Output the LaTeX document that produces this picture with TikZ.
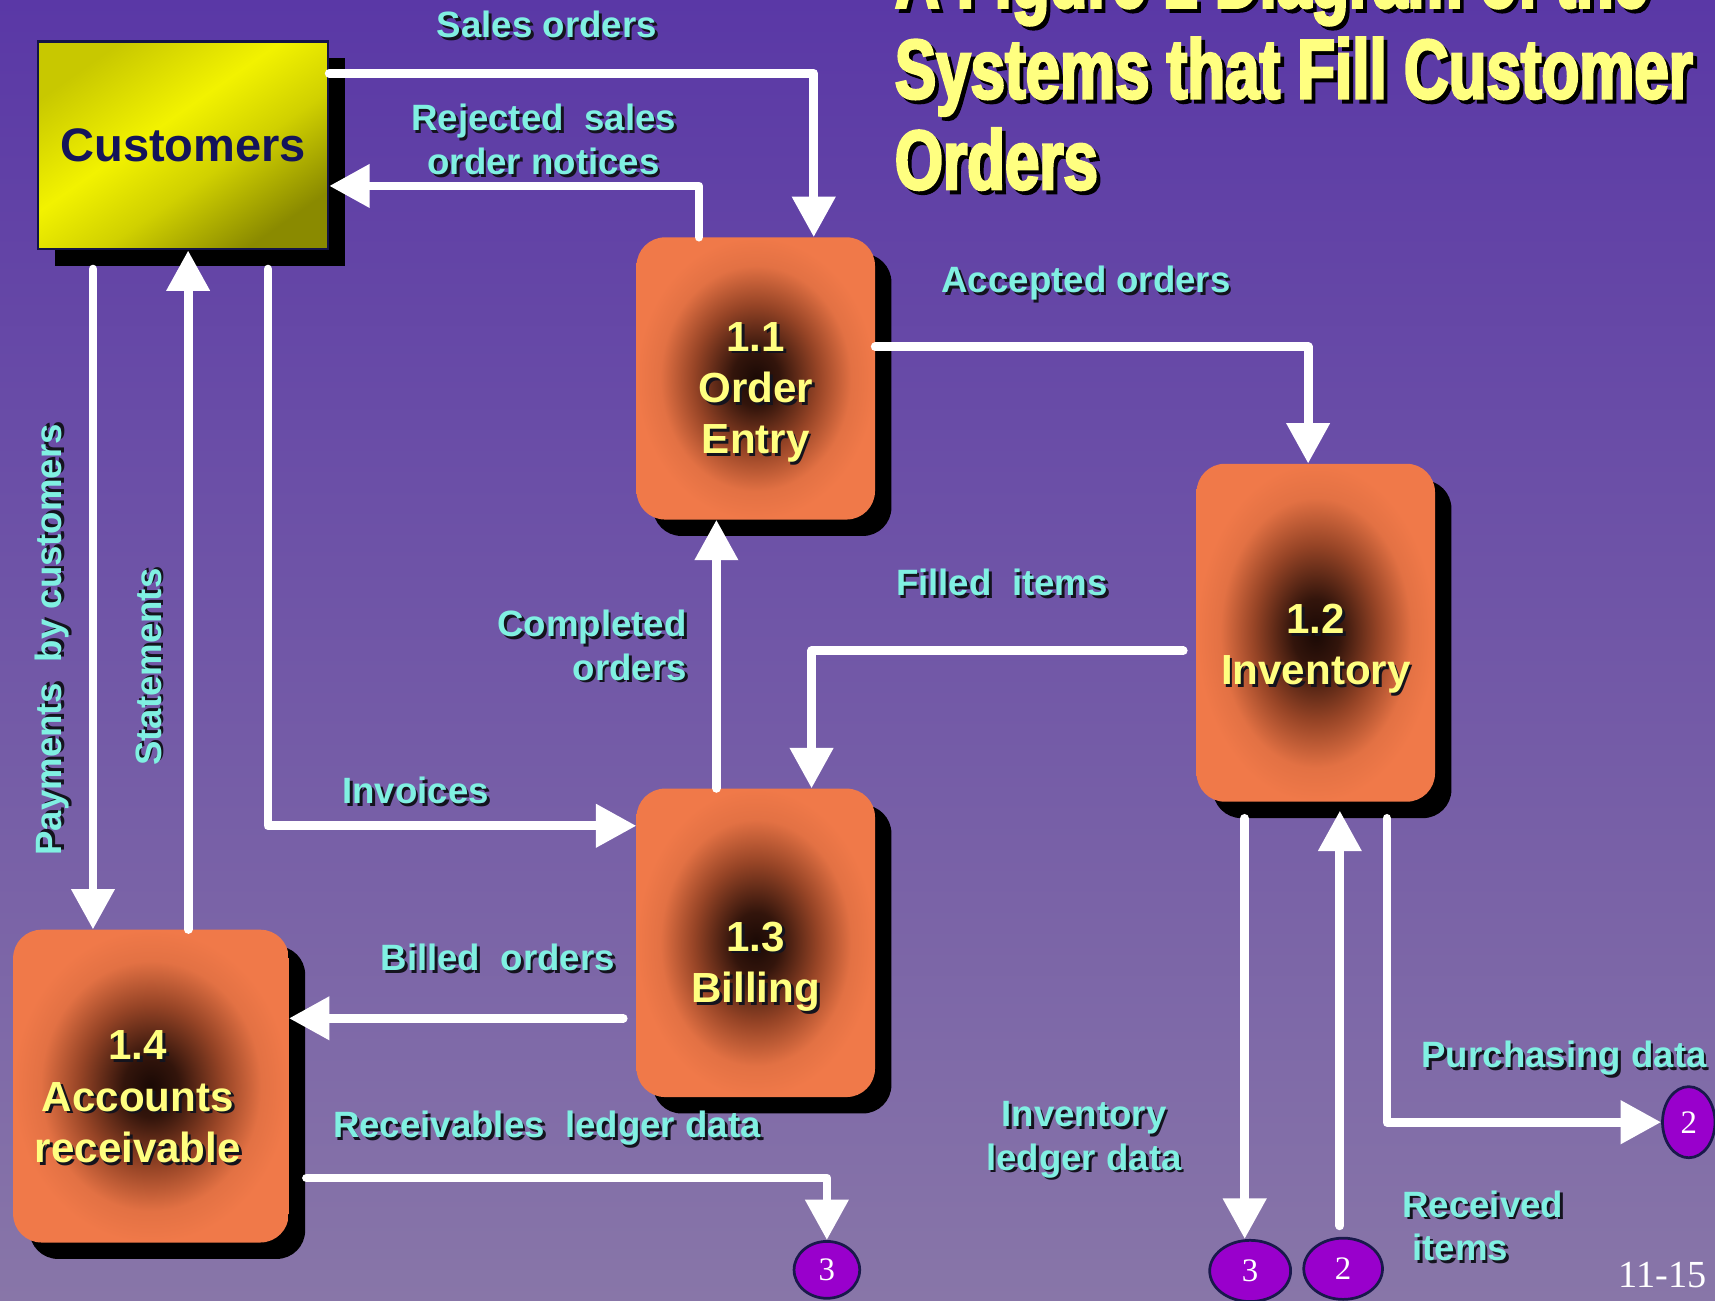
\documentclass[tikz,border=0pt]{standalone}
\usepackage{fontspec}
\setmainfont{Liberation Sans}
\newfontfamily\serifnum{Liberation Serif}
\newfontfamily\titlefont{Liberation Sans}[FakeStretch=0.735,FakeBold=3]
\usetikzlibrary{shapes.geometric,shadows,calc,arrows.meta}

\definecolor{bgtop}{RGB}{90,56,166}
\definecolor{bgbot}{RGB}{136,118,168}
\definecolor{labcyan}{RGB}{128,240,226}
\definecolor{procyel}{RGB}{255,255,128}
\definecolor{procorange}{RGB}{240,121,73}
\definecolor{procmid}{RGB}{150,68,38}
\definecolor{procdark}{RGB}{26,9,5}
\definecolor{custtext}{RGB}{20,20,90}
\definecolor{custedge}{RGB}{20,20,70}
\definecolor{custbright}{RGB}{242,242,0}
\definecolor{custmid}{RGB}{200,200,0}
\definecolor{custdark}{RGB}{138,138,0}
\definecolor{storefill}{RGB}{153,0,204}
\definecolor{storeedge}{RGB}{25,25,75}
\definecolor{txshadow}{RGB}{20,20,30}

% orange process boxes, dark in the middle
\pgfdeclareradialshading{procshade}{\pgfpoint{0bp}{0bp}}{%
  color(0bp)=(procdark); color(5bp)=(procdark!80!procmid);
  color(13bp)=(procmid); color(20bp)=(procorange!85!procmid);
  color(25bp)=(procorange); color(50bp)=(procorange)}
% yellow external entity
\pgfdeclareverticalshading{custshade}{100bp}{%
  color(0bp)=(custdark); color(25bp)=(custdark); color(42bp)=(custmid!80!custbright);
  color(56bp)=(custbright); color(75bp)=(custmid); color(100bp)=(custmid)}

% text with a dark drop shadow
\newcommand\txsh[1]{\leavevmode\rlap{\kern2.5pt\raisebox{-2.5pt}{\color{txshadow}#1}}#1}
\newcommand\ttlsh[1]{\leavevmode\rlap{\kern3.5pt\raisebox{-3.5pt}{\color{black}#1}}#1}

\tikzset{
  boxshadow/.style={drop shadow={shadow xshift=15pt,shadow yshift=-15pt,fill=black,opacity=1}},
  custbox/.style={rectangle, minimum width=265pt, minimum height=190pt, inner sep=0pt,
    draw=custedge, line width=2pt, shading=custshade, shading angle=35,
    text=custtext, font=\fontsize{43}{50}\selectfont\bfseries, boxshadow},
  procbox/.style={rectangle, rounded corners=26pt, inner sep=0pt, shading=procshade, boxshadow},
  proctext/.style={inner sep=0pt, align=center, text=procyel, font=\fontsize{38.5}{47}\selectfont\bfseries},
  store/.style={ellipse, inner sep=0pt, draw=storeedge, line width=2.5pt, fill=storefill,
    text=white, font=\serifnum\fontsize{30}{30}\selectfont},
  lab/.style={inner sep=0pt, align=center, text=labcyan, font=\fontsize{33.5}{40}\selectfont\bfseries},
  ttl/.style={inner sep=0pt, anchor=base west, text=procyel, font=\titlefont\fontsize{77}{83}\selectfont\bfseries},
  flow/.style={draw=white, line width=8pt, line cap=round, line join=round,
    -{Triangle[length=37pt,width=38pt]}},
}

\begin{document}
\begin{tikzpicture}[x=1pt,y=-1pt]
\useasboundingbox (0,0) rectangle (1568,1189);
\shade[top color=bgtop, bottom color=bgbot] (0,0) rectangle (1568,1189);

% title
\node[ttl] (title1) at (818,7) {\ttlsh{A Figure 1 Diagram of the}};
\node[ttl] (title2) at (818,90) {\ttlsh{Systems that Fill Customer}};
\node[ttl] (title3) at (818,173) {\ttlsh{Orders}};

% entity, processes and data stores
\node[custbox] (cust) at (167.5,133) {Customers};
\node[procbox, minimum width=218pt, minimum height=258pt] (oe) at (691,346) {};
\node[procbox, minimum width=218pt, minimum height=309pt] (inv) at (1203,578.5) {};
\node[procbox, minimum width=218pt, minimum height=282pt] (bil) at (691,862) {};
\node[procbox, minimum width=252pt, minimum height=286pt] (ar) at (138,993) {};

\node[proctext] (oetext) at ($(oe.center)+(0,14)$) {\txsh{1.1}\\\txsh{Order}\\\txsh{Entry}};
\node[proctext] (invtext) at ($(inv.center)+(0,16)$) {\txsh{1.2}\\\txsh{Inventory}};
\node[proctext] (biltext) at ($(bil.center)+(0,23)$) {\txsh{1.3}\\\txsh{Billing}};
\node[proctext] (artext) at ($(ar.center)+(-12,11)$) {\txsh{1.4}\\\txsh{Accounts}\\\txsh{receivable}};

\node[store, minimum width=60pt, minimum height=52pt] (s3a) at (756,1161) {3};
\node[store, minimum width=74pt, minimum height=56pt] (s3b) at (1143,1162) {3};
\node[store, minimum width=72pt, minimum height=56pt] (s2a) at (1228,1160) {2};
\node[store, minimum width=48pt, minimum height=65pt] (s2b) at (1544,1026) {2};

% data flows
\draw[flow] (cust.east |- 0,67) -| (744,0 |- oe.north);
\draw[flow] (639,0 |- oe.north) |- (cust.east |- 0,170);
\draw[flow] (oe.east |- 0,317) -| (1196,0 |- inv.north);
\draw[flow] ($(inv.west |- 0,595)+(-12,0)$) -| (742,0 |- bil.north);
\draw[flow] (655,0 |- bil.north) -- (655,0 |- oe.south);
\draw[flow] ($(cust.south -| 245,0)+(0,17)$) |- (bil.west |- 0,755);
\draw[flow] ($(bil.west |- 0,931)+(-12,0)$) -- (ar.east |- 0,931);
\draw[flow] ($(cust.south -| 85,0)+(0,17)$) -- (85,0 |- ar.north);
\draw[flow] (172,0 |- ar.north) -- (172,0 |- cust.south);
\draw[flow] ($(ar.east |- 0,1077)+(16,0)$) -| (s3a.north);
\draw[flow] ($(inv.south -| 1138,0)+(0,15)$) -- (1138,0 |- s3b.north);
\draw[flow] ($(s2a.north -| 1225,0)+(0,-10)$) -- ($(inv.south -| 1225,0)+(0,8)$);
\draw[flow] ($(inv.south -| 1268,0)+(0,15)$) |- (s2b.west);

% flow labels
\node[lab] (lsales) at (500,24) {\txsh{Sales orders}};
\node[lab] (lrej) at (497,129) {\txsh{Rejected\ \ sales}\\\txsh{order notices}};
\node[lab] (lacc) at (993,260) {\txsh{Accepted orders}};
\node[lab] (lfill) at (916,534) {\txsh{Filled\ \ items}};
\node[lab, align=right, anchor=east] (lcomp) at (628,591) {\txsh{Completed}\\\txsh{orders}};
\node[lab] (linv) at (380,724) {\txsh{Invoices}};
\node[lab] (lbill) at (455,877) {\txsh{Billed\ \ orders}};
\node[lab, rotate=90] (lpay) at (49,585) {\txsh{Payments\ \ by customers}};
\node[lab, rotate=90] (lstat) at (137,610) {\txsh{Statements}};
\node[lab] (lrecv) at (500,1033) {\txsh{Receivables\ \ ledger data}};
\node[lab] (lild) at (991,1043) {\txsh{Inventory}\\\txsh{ledger data}};
\node[lab, align=left, anchor=west] (lrec) at (1282,1122) {\txsh{Received}\\\hspace{9pt}\txsh{items}};
\node[lab] (lpur) at (1430,969) {\txsh{Purchasing data}};

\node[inner sep=0pt, text=white, font=\serifnum\fontsize{35}{35}\selectfont] (pnum) at (1520,1166) {11-15};
\end{tikzpicture}
\end{document}
